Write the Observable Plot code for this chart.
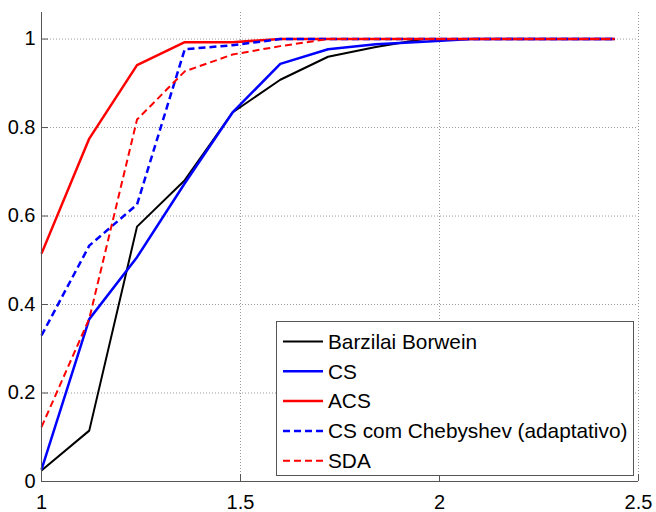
<!DOCTYPE html>
<html><head><meta charset="utf-8">
<script src="https://cdn.jsdelivr.net/npm/d3@7"></script>
<script src="https://cdn.jsdelivr.net/npm/@observablehq/plot@0.6"></script>
<style>html,body{margin:0;padding:0;background:#fff}</style>
</head><body><div id="chart"></div>
<script>
// x positions of the samples
const xValues = [1, 1.12, 1.24, 1.36, 1.48, 1.6, 1.72, 1.84, 1.96, 2.08, 2.2, 2.32, 2.44];
// series values
const barzilaiBorwein = [0.025, 0.115, 0.576, 0.681, 0.834, 0.908, 0.960, 0.982, 1, 1, 1, 1, 1];
const cs              = [0.027, 0.367, 0.507, 0.674, 0.834, 0.944, 0.977, 0.988, 0.994, 1, 1, 1, 1];
const acs             = [0.515, 0.775, 0.941, 0.993, 0.993, 1, 1, 1, 1, 1, 1, 1, 1];
const csChebyshev     = [0.330, 0.533, 0.626, 0.977, 0.986, 1, 1, 1, 1, 1, 1, 1, 1];
const sda             = [0.123, 0.368, 0.818, 0.927, 0.965, 0.984, 1, 1, 1, 1, 1, 1, 1];
const seriesNames = ["Barzilai Borwein", "CS", "ACS", "CS com Chebyshev (adaptativo)", "SDA"];
// tick labels
const xTicks = [1, 1.5, 2, 2.5];
const yTicks = [0, 0.2, 0.4, 0.6, 0.8, 1];

const seriesValues = [barzilaiBorwein, cs, acs, csChebyshev, sda];
const styles = [
  {stroke: "#000000", width: 2, dash: null},
  {stroke: "#0000ff", width: 2.5, dash: null},
  {stroke: "#ff0000", width: 2.5, dash: null},
  {stroke: "#0000ff", width: 2.5, dash: "7,4"},
  {stroke: "#ff0000", width: 2, dash: "7,4"}
];
const rows = seriesNames.flatMap((name, k) => xValues.map((x, i) => ({series: name, x, y: seriesValues[k][i]})));

const W = 656, H = 512, mL = 41, mR = 18, mT = 12, mB = 31;
const plotW = W - mL - mR, plotH = H - mT - mB;
const axisColor = "#555";
const gridStyle = {stroke: "#999", strokeWidth: 1, strokeDasharray: "1,2"};

const chart = Plot.plot({
  width: W, height: H,
  marginLeft: mL, marginRight: mR, marginTop: mT, marginBottom: mB,
  style: {fontFamily: "'Liberation Sans', Arial, sans-serif", fontSize: "20px", color: "#000", background: "#fff"},
  x: {domain: [1, 2.5], label: null},
  y: {domain: [0, 1.06], label: null},
  marks: [
    Plot.ruleY(yTicks.filter(d => d > 0), gridStyle),
    Plot.ruleX(xTicks.filter(d => d > 1), gridStyle),
    ...seriesNames.map((name, k) => Plot.line(rows.filter(r => r.series === name), {
      x: "x", y: "y", stroke: styles[k].stroke, strokeWidth: styles[k].width,
      strokeDasharray: styles[k].dash, strokeLinejoin: "miter", strokeLinecap: "butt"
    })),
    Plot.ruleX(xTicks, {stroke: axisColor, insetTop: plotH - 7}),
    Plot.ruleY(yTicks, {stroke: axisColor, insetRight: plotW - 7}),
    Plot.ruleX([1], {stroke: axisColor}),
    Plot.ruleY([0], {stroke: axisColor}),
    Plot.axisX({ticks: xTicks, tickSize: 0, tickPadding: 13, tickFormat: d => String(d), fontSize: 20, label: null}),
    Plot.axisY({ticks: yTicks, tickSize: 0, tickPadding: 6, tickFormat: d => String(d), fontSize: 20, label: null})
  ]
});

// Legend inside the plot area (lower right)
const svg = d3.select(chart);
const lg = svg.append("g").attr("class", "legend");
const box = {x: 276, y: 321, w: 357, h: 154};
lg.append("rect").attr("x", box.x + 0.5).attr("y", box.y + 0.5).attr("width", box.w).attr("height", box.h)
  .attr("fill", "#fff").attr("stroke", axisColor).attr("stroke-width", 1);
seriesNames.forEach((name, k) => {
  const yy = box.y + 20.5 + k * 29.8;
  lg.append("line").attr("x1", box.x + 7).attr("x2", box.x + 47).attr("y1", yy).attr("y2", yy)
    .attr("stroke", styles[k].stroke).attr("stroke-width", styles[k].width)
    .attr("stroke-dasharray", styles[k].dash);
  lg.append("text").attr("x", box.x + 52).attr("y", yy).attr("dy", "0.35em")
    .attr("text-anchor", "start").attr("font-size", 20.8).attr("fill", "#000").text(name);
});

document.getElementById("chart").appendChild(chart);
</script>
</body></html>
